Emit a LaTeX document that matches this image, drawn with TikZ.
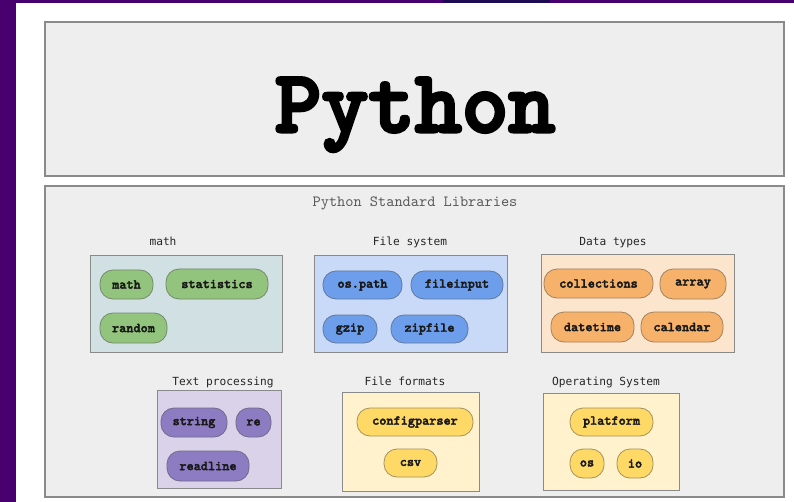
\documentclass[tikz,border=0pt]{standalone}
\usepackage{fontspec}
\newfontfamily\titlefont{lmmonolt10-bold.otf}[FakeBold=3.5]
\newfontfamily\pillfont{lmmonolt10-bold.otf}[FakeBold=2.5]
\newfontfamily\slab{lmmono10-regular.otf}
\newfontfamily\labelfont{DejaVu Sans Mono}
\definecolor{framepurple}{HTML}{48006E}
\definecolor{framedark}{HTML}{1C0A52}
\definecolor{panelfill}{HTML}{EEEEEE}
\definecolor{panelline}{HTML}{8A8A8A}
\definecolor{grpteal}{HTML}{D0E0E3}
\definecolor{grpblue}{HTML}{C9DAF8}
\definecolor{grporange}{HTML}{FCE5CD}
\definecolor{grppurple}{HTML}{D9D2E9}
\definecolor{grpyellow}{HTML}{FFF2CC}
\definecolor{pgreen}{HTML}{93C47D}
\definecolor{pblue}{HTML}{6D9EEB}
\definecolor{porange}{HTML}{F6B26B}
\definecolor{ppurple}{HTML}{8E7CC3}
\definecolor{pyellow}{HTML}{FFD966}
\tikzset{
  panel/.style={draw=panelline, fill=panelfill, line width=1.2pt, inner sep=0pt},
  groupbox/.style={draw=panelline, line width=0.8pt, inner sep=0pt},
  grouplabel/.style={anchor=base, inner sep=0pt, text=black!85,
    font=\labelfont\fontsize{11.2}{13}\selectfont},
  pill/.style={draw=#1!55!black!80, fill=#1, line width=0.8pt, rounded corners=13pt,
    inner sep=0pt, text=black!90, font=\pillfont\fontsize{13.6}{15}\selectfont},
}
\begin{document}
\begin{tikzpicture}[x=1pt,y=-1pt]
\useasboundingbox (0,0) rectangle (794,502);
% page background and frame
\fill[white] (0,0) rectangle (794,502);
\fill[framepurple] (0,0) rectangle (16,502);
\fill[framepurple] (0,0) rectangle (794,3);
\fill[framedark] (443,0) rectangle (550,3);

% title panel
\node[panel, minimum width=739pt, minimum height=154pt] (titlepanel) at (414.5,99) {};
\node[inner sep=0pt, anchor=base] (title) at (415,132)
  {\titlefont\fontsize{89}{90}\selectfont Python};

% standard library panel
\node[panel, minimum width=739pt, minimum height=311pt] (libpanel) at (414.5,341.5) {};
\node[anchor=base, inner sep=0pt, text=black!65,
  font=\slab\fontsize{15.6}{17}\selectfont] (libtitle) at (415,207)
  {Python Standard Libraries};

% --- math ---
\node[grouplabel] (lmath) at (163,246) {math};
\node[groupbox, fill=grpteal, minimum width=192pt, minimum height=97pt] (gmath) at (186.7,303.5) {};
\node[pill=pgreen, minimum width=53pt, minimum height=29pt] (math) at (126.5,284.5) {math};
\node[pill=pgreen, minimum width=102pt, minimum height=30pt] (statistics) at (217,284) {statistics};
\node[pill=pgreen, minimum width=67pt, minimum height=30pt] (random) at (133.5,328) {random};

% --- File system ---
\node[grouplabel] (lfs) at (410,246) {File system};
\node[groupbox, fill=grpblue, minimum width=193pt, minimum height=97pt] (gfs) at (410.5,303.5) {};
\node[pill=pblue, minimum width=79pt, minimum height=28pt] (ospath) at (362.5,285) {os.path};
\node[pill=pblue, minimum width=92pt, minimum height=28pt] (fileinput) at (457,285) {fileinput};
\node[pill=pblue, minimum width=54pt, minimum height=28pt] (gzip) at (350,329) {gzip};
\node[pill=pblue, minimum width=77pt, minimum height=28pt] (zipfile) at (429.5,329) {zipfile};

% --- Data types ---
\node[grouplabel] (ldt) at (613,246) {Data types};
\node[groupbox, fill=grporange, minimum width=193pt, minimum height=98pt] (gdt) at (637.5,303) {};
\node[pill=porange, minimum width=109pt, minimum height=29pt] (collections) at (598.5,283.5) {collections};
\node[pill=porange, minimum width=66pt, minimum height=30pt] (array) at (693,284) {array};
\node[pill=porange, minimum width=83pt, minimum height=30pt] (datetime) at (592.5,327) {datetime};
\node[pill=porange, minimum width=82pt, minimum height=30pt] (calendar) at (682,327) {calendar};

% --- Text processing ---
\node[grouplabel] (ltp) at (223,385) {Text processing};
\node[groupbox, fill=grppurple, minimum width=124pt, minimum height=98pt] (gtp) at (219,439.5) {};
\node[pill=ppurple, minimum width=66pt, minimum height=29pt] (string) at (194,422.5) {string};
\node[pill=ppurple, minimum width=35pt, minimum height=29pt] (re) at (253.5,422.5) {re};
\node[pill=ppurple, minimum width=82pt, minimum height=30pt] (readline) at (208,466) {readline};

% --- File formats ---
\node[grouplabel] (lff) at (405,385) {File formats};
\node[groupbox, fill=grpyellow, minimum width=137pt, minimum height=99pt] (gff) at (410.5,441.5) {};
\node[pill=pyellow, minimum width=116pt, minimum height=28pt] (configparser) at (415,422) {configparser};
\node[pill=pyellow, minimum width=53pt, minimum height=28pt] (csv) at (410.5,463) {csv};

% --- Operating System ---
\node[grouplabel] (los) at (606,385) {Operating System};
\node[groupbox, fill=grpyellow, minimum width=136pt, minimum height=97pt] (gos) at (611,441.5) {};
\node[pill=pyellow, minimum width=83pt, minimum height=28pt] (platform) at (611.5,422) {platform};
\node[pill=pyellow, minimum width=34pt, minimum height=29pt] (os) at (587,463.5) {os};
\node[pill=pyellow, minimum width=36pt, minimum height=29pt] (io) at (635,463.5) {io};
\end{tikzpicture}
\end{document}
